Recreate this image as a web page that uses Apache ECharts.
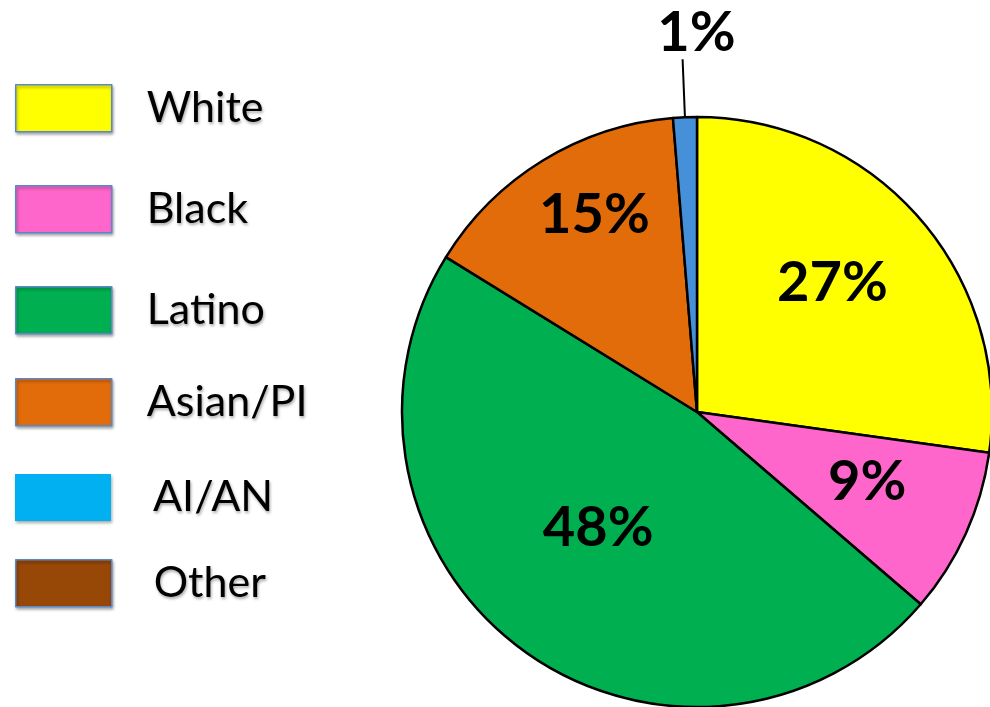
<!DOCTYPE html>
<html>
<head>
<meta charset="utf-8">
<script src="https://cdn.jsdelivr.net/npm/echarts@6/dist/echarts.min.js"></script>
<style>html,body{margin:0;padding:0;background:#fff}#c{width:990px;height:707px}</style>
</head>
<body>
<div id="c"></div>
<script>
// Data
const categories = ['White', 'Black', 'Latino', 'Asian/PI', 'AI/AN', 'Other'];
const shares = [27.2, 9.1, 47.5, 14.9, 1.3, 0];
const sliceColors = ['#FFFF00', '#FF66CC', '#00B050', '#E36C0A', '#4690DA', '#974706'];
const legendColors = ['#FFFF00', '#FF66CC', '#00B050', '#E36C0A', '#00B0F0', '#974706'];

const chart = echarts.init(document.getElementById('c'));
const FONT = 'Lato, "Open Sans", sans-serif';

// legend layout (one legend per item to match uneven spacing)
const legendTops = [84, 185, 286, 378, 474, 559];
const legendTextPad = [30, 30, 30, 30, 37, 37];

const legends = categories.map((name, i) => ({
  orient: 'vertical',
  left: 15,
  top: legendTops[i],
  padding: 0,
  itemWidth: 96,
  itemHeight: 47,
  selectedMode: false,
  icon: 'rect',
  data: [{
    name: name,
    itemStyle: {
      color: legendColors[i],
      borderColor: i === 4 ? 'transparent' : '#5B86C8',
      borderWidth: i === 4 ? 0 : 1.5,
      shadowColor: 'rgba(0,0,0,0.35)',
      shadowBlur: 3,
      shadowOffsetX: 1,
      shadowOffsetY: 2
    }
  }],
  textStyle: {
    fontFamily: FONT,
    fontSize: 43,
    color: '#000',
    padding: [0, 0, 0, legendTextPad[i]],
    textShadowColor: 'rgba(0,0,0,0.35)',
    textShadowBlur: 3,
    textShadowOffsetX: 1,
    textShadowOffsetY: 2
  }
}));

const labelOffsets = [[22, -30], [33, 8], [-10, -6], [-24, -69], [58, -26], [0, 0]];

const data = categories.map((name, i) => {
  const d = {
    name: name,
    value: shares[i],
    itemStyle: { color: sliceColors[i] },
    label: { offset: labelOffsets[i] }
  };
  if (i === 4) {
    d.label = {
      position: 'outside',
      offset: labelOffsets[i]
    };
    d.labelLine = { show: true, length: 58, length2: 0, lineStyle: { color: '#000', width: 2 } };
  }
  if (i === 5) {
    d.label = { show: false };
    d.labelLine = { show: false };
    d.itemStyle = { color: sliceColors[i], borderWidth: 0 };
  }
  return d;
});

chart.setOption({
  animation: false,
  legend: legends,
  series: [{
    type: 'pie',
    center: [697, 412],
    radius: [0, 295],
    startAngle: 90,
    clockwise: true,
    avoidLabelOverlap: false,
    minShowLabelAngle: 0,
    itemStyle: { borderColor: '#000', borderWidth: 2.5 },
    label: {
      show: true,
      position: 'inside',
      fontFamily: FONT,
      fontWeight: 'bold',
      fontSize: 56,
      color: '#000',
      formatter: p => Math.round(p.percent) + '%'
    },
    labelLine: { show: false },
    emphasis: { disabled: true },
    data: data
  }]
});
</script>
</body>
</html>
